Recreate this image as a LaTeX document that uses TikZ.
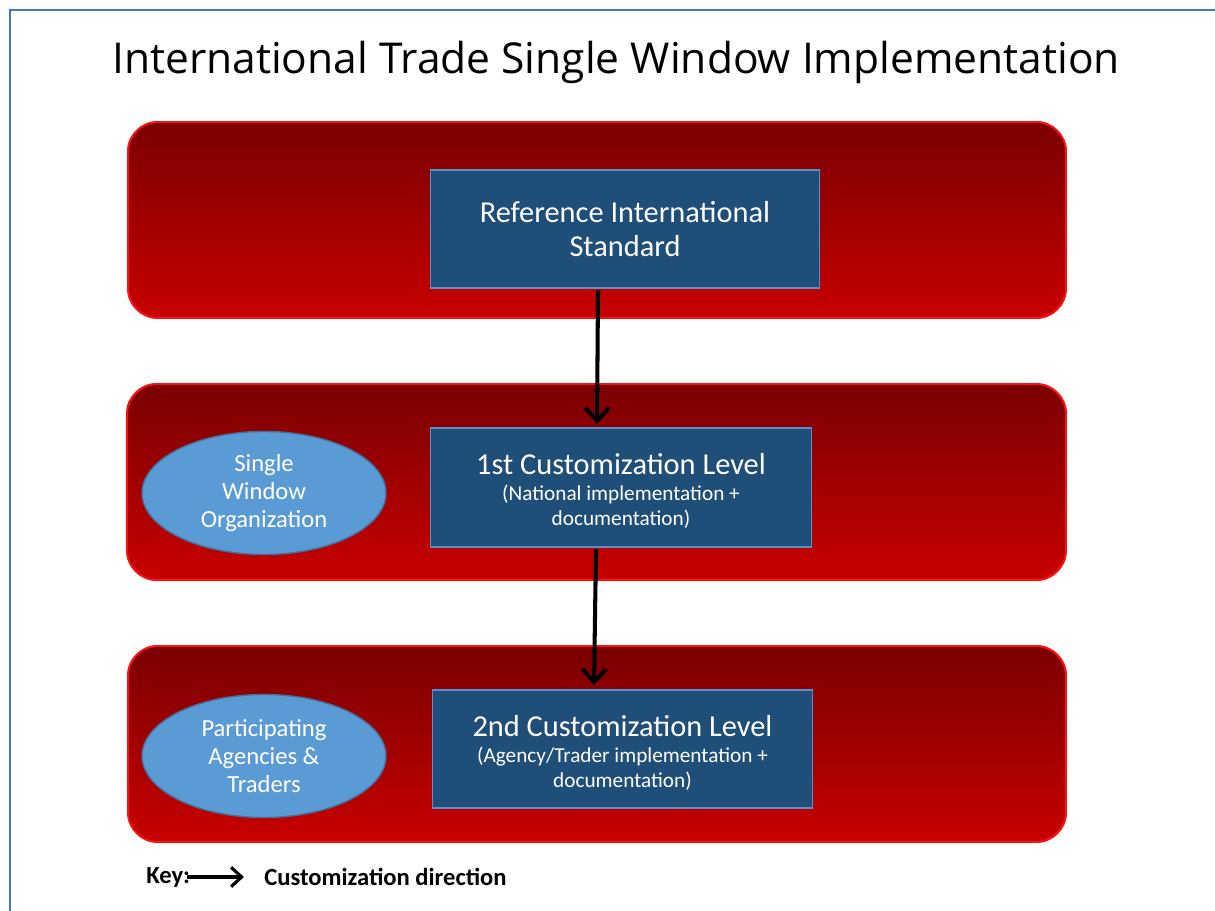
\documentclass[tikz,border=0pt]{standalone}
\usepackage{fontspec}
\setmainfont{Carlito}
\newfontfamily\titlefont{Open Sans}
\usetikzlibrary{arrows.meta,shapes.geometric}
\definecolor{bandtop}{HTML}{7A0000}
\definecolor{bandbot}{HTML}{C80000}
\definecolor{bandline}{HTML}{FF1010}
\definecolor{boxfill}{HTML}{1F4E79}
\definecolor{boxline}{HTML}{5B8FC9}
\definecolor{ovalfill}{HTML}{5B9BD5}
\definecolor{ovalline}{HTML}{41719C}
\definecolor{frameline}{HTML}{4472C4}
\newcommand{\levelhead}[1]{{\fontsize{17.3}{19.3}\selectfont #1}}
\tikzset{
  band/.style={draw=bandline, line width=1pt, rounded corners=17pt,
    top color=bandtop, bottom color=bandbot},
  levelbox/.style={draw=boxline, line width=0.6pt, fill=boxfill, text=white,
    align=center, inner sep=0pt, font=\fontsize{12.1}{14.2}\selectfont},
  oval/.style={ellipse, draw=ovalline, line width=0.8pt, fill=ovalfill,
    text=white, align=center, inner sep=0pt,
    minimum width=4.88cm, minimum height=2.46cm,
    font=\fontsize{14}{15.9}\selectfont},
  keytext/.style={anchor=west, inner sep=0pt, font=\bfseries\fontsize{14}{16}\selectfont},
  flow/.style={line width=2.3pt, -{Straight Barb[length=7.5pt,width=13.5pt]}}
}
\begin{document}
\begin{tikzpicture}[x=0.02cm, y=-0.02cm]
\useasboundingbox (0,0) rectangle (1215,911);
\draw[frameline, line width=1.1pt] (10,911) -- (10,10) -- (1215,10);
\node (title) at (616,62) {\titlefont\fontsize{24.2}{28}\selectfont International Trade Single Window Implementation};
% bands
\shade[band] (128,122) rectangle (1066,318);
\shade[band] (127,384) rectangle (1066,580);
\shade[band] (128,646) rectangle (1066,842);
\draw[bandline, line width=1pt, rounded corners=17pt] (128,122) rectangle (1066,318);
\draw[bandline, line width=1pt, rounded corners=17pt] (127,384) rectangle (1066,580);
\draw[bandline, line width=1pt, rounded corners=17pt] (128,646) rectangle (1066,842);
% level boxes
\node[levelbox, minimum width=7.8cm, minimum height=2.36cm,
  font=\fontsize{17.3}{19.3}\selectfont] (std) at (625,229)
  {Reference International\\Standard};
\node[levelbox, minimum width=7.64cm, minimum height=2.38cm,
  text height=43.6pt, text depth=0pt] (lvl1) at (621,487.5)
  {\levelhead{1st Customization Level}\\[1pt]
   (National implementation +\\documentation)};
\node[levelbox, minimum width=7.62cm, minimum height=2.36cm,
  text height=44.2pt, text depth=0pt] (lvl2) at (622.5,749)
  {\levelhead{2nd Customization Level}\\[1pt]
   (Agency/Trader implementation +\\documentation)};
% organizations
\node[oval] (swo) at (264,493) {Single\\Window\\Organization};
\node[oval] (pat) at (264,756) {Participating\\Agencies \&\\Traders};
% customization arrows
\draw[flow] ([xshift=-0.54cm,yshift=-1pt]std.south) -- ([xshift=-0.48cm,yshift=2pt]lvl1.north);
\draw[flow] ([xshift=-0.5cm,yshift=-1pt]lvl1.south) -- ([xshift=-0.57cm,yshift=2.5pt]lvl2.north);
% key
\node[keytext] (key) at (146,877) {Key:};
\coordinate (keyend) at (244,877);
\draw[line width=1.8pt, -{Straight Barb[length=6pt,width=11pt]}] ([xshift=-2pt]key.east) -- (keyend);
\node[keytext] (keylabel) at (264,877) {Customization direction};
\end{tikzpicture}
\end{document}
